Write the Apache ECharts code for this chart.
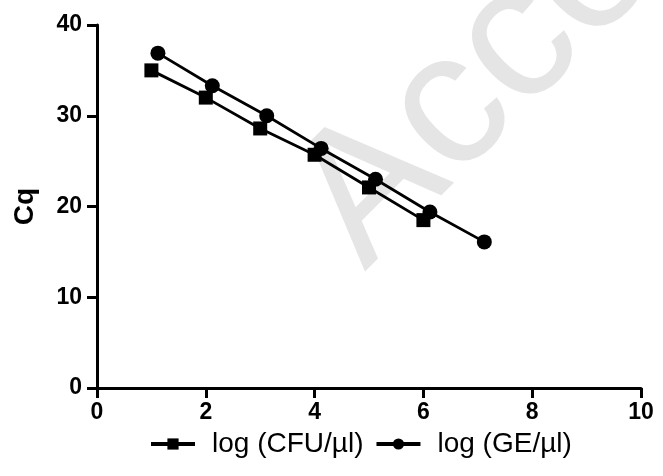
<!DOCTYPE html>
<html><head><meta charset="utf-8">
<script src="https://cdn.jsdelivr.net/npm/echarts@6/dist/echarts.min.js"></script>
<style>html,body{margin:0;padding:0;background:#fff}#c{width:663px;height:476px}</style>
</head><body><div id="c"></div>
<script>
const cfuX = [1, 2, 3, 4, 5, 6];
const cfuY = [35, 32, 28.6, 25.7, 22.1, 18.5];
const geX = [1.12, 2.12, 3.12, 4.12, 5.12, 6.12, 7.12];
const geY = [36.9, 33.3, 30, 26.4, 23, 19.4, 16.1];
const xTicks = [0, 2, 4, 6, 8, 10];
const yTicks = [0, 10, 20, 30, 40];
const seriesNames = ['log (CFU/\u00b5l)', 'log (GE/\u00b5l)'];

const chart = echarts.init(document.getElementById('c'), null, {renderer: 'canvas'});
const font = '"Liberation Sans", Arial, sans-serif';
chart.setOption({
  animation: false,
  backgroundColor: '#fff',
  graphic: [{
    type: 'text', z: -10, silent: true,
    x: 375, y: 282, rotation: Math.PI / 4,
    style: {text: 'Accepted Manuscript', x: 0, y: 28, verticalAlign: 'bottom',
            fill: '#e5e5e5', font: '190px ' + font}
  }],
  grid: {left: 97, right: 22, top: 25, bottom: 88, containLabel: false},
  xAxis: {
    type: 'value', min: 0, max: 10, interval: 2,
    axisLine: {show: true, onZero: false, lineStyle: {color: '#000', width: 3}},
    axisTick: {show: true, length: 10, lineStyle: {color: '#000', width: 3}},
    splitLine: {show: false},
    axisLabel: {color: '#000', fontSize: 23, fontWeight: 'bold', fontFamily: font, margin: 13,
      formatter: v => xTicks.includes(v) ? String(v) : ''}
  },
  yAxis: {
    type: 'value', min: 0, max: 40, interval: 10,
    name: 'Cq', nameLocation: 'middle', nameGap: 58, nameRotate: 90,
    nameTextStyle: {color: '#000', fontSize: 28, fontWeight: 'bold', fontFamily: font},
    axisLine: {show: true, onZero: false, lineStyle: {color: '#000', width: 3}},
    axisTick: {show: true, length: 10, lineStyle: {color: '#000', width: 3}},
    splitLine: {show: false},
    axisLabel: {color: '#000', fontSize: 23, fontWeight: 'bold', fontFamily: font, margin: 15,
      formatter: v => yTicks.includes(v) ? String(v) : ''}
  },
  legend: {
    top: 430, left: 149, padding: 0, itemGap: 11, itemWidth: 44, itemHeight: 14,
    lineStyle: {width: 4},
    textStyle: {color: '#000', fontSize: 28, fontFamily: font, padding: [0, 0, 0, 12]},
    data: seriesNames
  },
  series: [
    {name: seriesNames[0], type: 'line', symbol: 'rect', symbolSize: 14,
     data: cfuX.map((x, i) => [x, cfuY[i]]),
     lineStyle: {color: '#000', width: 2.8}, itemStyle: {color: '#000'}},
    {name: seriesNames[1], type: 'line', symbol: 'circle', symbolSize: 15,
     data: geX.map((x, i) => [x, geY[i]]),
     lineStyle: {color: '#000', width: 2.8}, itemStyle: {color: '#000'}}
  ]
});
</script></body></html>
